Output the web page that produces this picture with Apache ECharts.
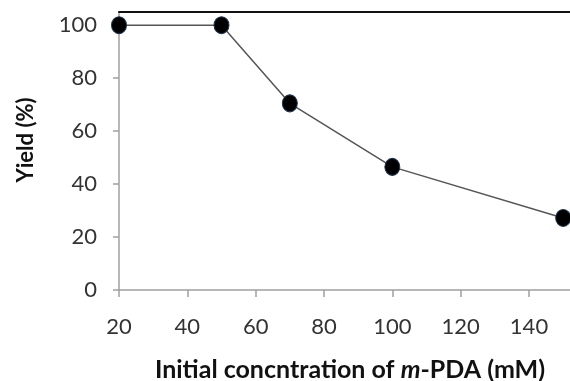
<!DOCTYPE html>
<html>
<head>
<meta charset="utf-8">
<script src="https://cdn.jsdelivr.net/npm/echarts@6/dist/echarts.min.js"></script>
<style>
  html, body { margin: 0; padding: 0; background: #fff; }
  #chart { width: 570px; height: 381px; }
</style>
</head>
<body>
<div id="chart"></div>
<script>
var concentration = [20, 50, 70, 100, 150];
var yieldPct = [100, 100, 70.5, 46.5, 27.2];

var FONT = 'Lato, "Open Sans", sans-serif';

var points = [];
for (var i = 0; i < concentration.length; i++) {
    points.push([concentration[i], yieldPct[i]]);
}

var chart = echarts.init(document.getElementById('chart'));
var option = {
    animation: false,
    grid: { left: 119, right: 0, top: 12, bottom: 91, containLabel: false, outerBoundsMode: 'none' },
    xAxis: [{
        type: 'value',
        min: 20,
        max: 152,
        interval: 20,
        axisLine: { lineStyle: { color: '#a0a0a0', width: 1.5 } },
        axisTick: { show: true, length: 7, lineStyle: { color: '#a0a0a0', width: 1.5 } },
        splitLine: { show: false },
        axisLabel: {
            showMaxLabel: false,
            margin: 26,
            color: '#333',
            fontFamily: FONT,
            fontSize: 22
        },
        name: '{b|Initial concntration of }{i|m}{b|-PDA (mM)}',
        nameLocation: 'middle',
        nameGap: 67,
        nameTextStyle: {
            padding: [0, 0, 0, 11],
            rich: {
                b: { fontFamily: FONT, fontWeight: 'bold', fontSize: 25, color: '#111' },
                i: { fontFamily: FONT, fontWeight: 'bold', fontStyle: 'italic', fontSize: 25, color: '#111' }
            }
        }
    }, {
        type: 'value',
        position: 'top',
        min: 20,
        max: 152,
        axisLine: { show: true, lineStyle: { color: '#111', width: 2 } },
        axisTick: { show: false },
        axisLabel: { show: false },
        splitLine: { show: false }
    }],
    yAxis: {
        type: 'value',
        min: 0,
        max: 105,
        interval: 20,
        axisLine: { show: true, lineStyle: { color: '#a0a0a0', width: 1.5 } },
        axisTick: { show: true, length: 6, lineStyle: { color: '#a0a0a0', width: 1.5 } },
        splitLine: { show: false },
        axisLabel: {
            showMaxLabel: false,
            margin: 22,
            color: '#333',
            fontFamily: FONT,
            fontSize: 22
        }
    },
    graphic: [{
        type: 'text',
        x: 26,
        y: 140,
        rotation: Math.PI / 2,
        style: {
            text: 'Yield (%)',
            fontFamily: FONT,
            fontWeight: 'bold',
            fontSize: 22,
            fill: '#111',
            align: 'center',
            verticalAlign: 'middle'
        }
    }],
    series: [{
        type: 'line',
        data: points,
        clip: false,
        symbol: 'circle',
        symbolSize: [15, 17],
        lineStyle: { color: '#555', width: 1.5 },
        itemStyle: { color: '#000', borderColor: '#1c3550', borderWidth: 1 }
    }]
};
chart.setOption(option);
</script>
</body>
</html>
